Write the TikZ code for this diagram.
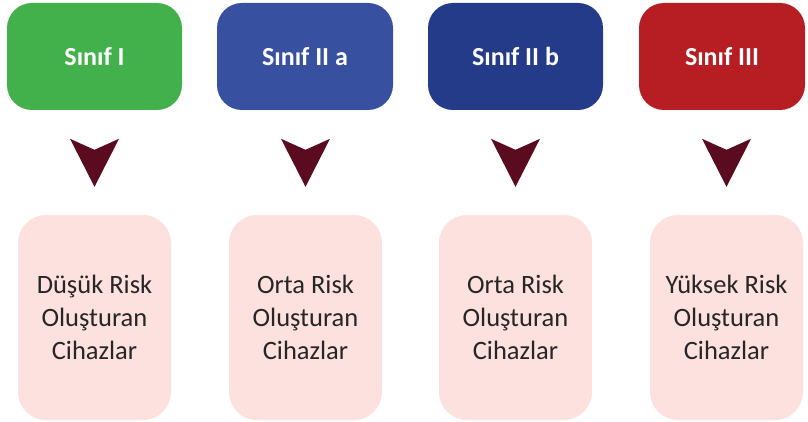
\documentclass[tikz,border=0pt]{standalone}
\usepackage{fontspec}
\setmainfont{Carlito}
\usetikzlibrary{positioning, calc}
\definecolor{sinifgreen}{HTML}{43B14B}
\definecolor{sinifblue}{HTML}{3750A0}
\definecolor{sinifnavy}{HTML}{243B8A}
\definecolor{sinifred}{HTML}{B61E23}
\definecolor{chevmaroon}{HTML}{5A0B20}
\definecolor{riskpink}{HTML}{FCE1DE}
\definecolor{risktext}{HTML}{262626}
\tikzset{
  classbox/.style={rectangle, rounded corners=25pt, fill=#1, minimum height=107pt,
                   inner sep=0pt, text=white, font=\fontsize{26}{31}\selectfont\bfseries},
  classbox/.default=sinifgreen,
  riskbox/.style={rectangle, rounded corners=28pt, fill=riskpink, minimum width=153pt,
                  minimum height=205pt, inner sep=0pt, align=center, text=risktext,
                  font=\fontsize{26.5}{33}\selectfont},
  chevron/.style={fill=chevmaroon},
}

\begin{document}
\begin{tikzpicture}[x=1pt, y=1pt]
  \useasboundingbox (0,0) rectangle (808,-422);
  % --- device classes (top row) ---
  \node[classbox=sinifgreen, minimum width=175pt] (sinif1) at (94.5,-56.5) {Sınıf I};
  \node[classbox=sinifblue, minimum width=176pt] (sinif2) at (305,-56.5) {Sınıf II a};
  \node[classbox=sinifnavy, minimum width=175pt] (sinif3) at (515.5,-56.5) {Sınıf II b};
  \node[classbox=sinifred, minimum width=166pt] (sinif4) at (722,-56.5) {Sınıf III};

  % --- risk levels (bottom row) ---
  \node[riskbox] (risk1) at (94.5,-317.5) {Düşük Risk\\Oluşturan\\Cihazlar};
  \node[riskbox] (risk2) at (305.5,-317.5) {Orta Risk\\Oluşturan\\Cihazlar};
  \node[riskbox] (risk3) at (515.5,-317.5) {Orta Risk\\Oluşturan\\Cihazlar};
  \node[riskbox] (risk4) at (726.5,-317.5) {Yüksek Risk\\Oluşturan\\Cihazlar};

  % --- chevrons between the rows ---
  \foreach \i in {1,...,4}{
    \coordinate (tip\i) at ([yshift=28pt]risk\i.north);
    \fill[chevron] (tip\i) -- ++(-24.5,48) -- ++(24.5,-11) -- ++(24.5,11) -- cycle;
  }
\end{tikzpicture}
\end{document}
